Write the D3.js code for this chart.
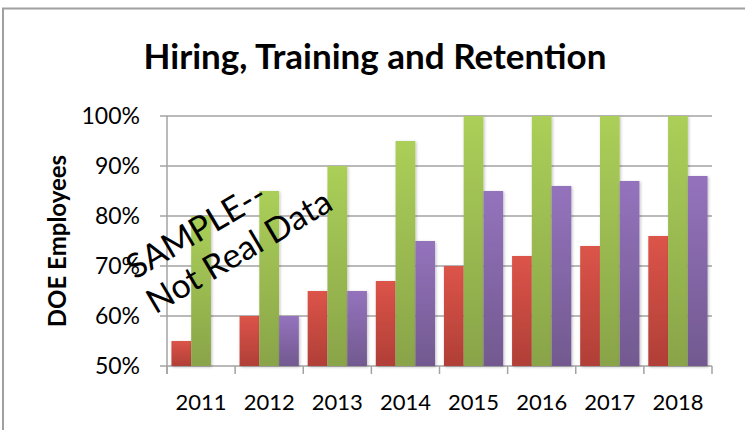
<!DOCTYPE html>
<html>
<head>
<meta charset="utf-8">
<script src="https://cdn.jsdelivr.net/npm/d3@7/dist/d3.min.js"></script>
<style>
  body { margin: 0; background: #fff; }
  svg { display: block; }
  text { font-family: Lato, "Open Sans", sans-serif; fill: #000; }
</style>
</head>
<body>
<svg id="chart" width="745" height="430"></svg>
<script>
// datos
const years = ['2011', '2012', '2013', '2014', '2015', '2016', '2017', '2018'];
const hiring = [55, 60, 65, 67, 70, 72, 74, 76];
const training = [80, 85, 90, 95, 100, 100, 100, 100];
const retention = [null, 60, 65, 75, 85, 86, 87, 88];
const yTicks = [50, 60, 70, 80, 90, 100];

const seriesList = [
  { key: 'hiring', values: hiring, top: '#dc5449', bottom: '#b03f37' },
  { key: 'training', values: training, top: '#abcf58', bottom: '#89a449' },
  { key: 'retention', values: retention, top: '#9473bd', bottom: '#72598f' },
];

const svg = d3.select('#chart');
const margin = { top: 116, right: 33, bottom: 64, left: 167 };
const width = 745 - margin.left - margin.right;
const height = 430 - margin.top - margin.bottom;

// marco del grafico
svg.append('path')
  .attr('d', 'M3,430 V8.5 H745')
  .attr('fill', 'none')
  .attr('stroke', '#a0a0a0')
  .attr('stroke-width', 2);

// gradientes y sombra
const defs = svg.append('defs');
seriesList.forEach((s) => {
  const grad = defs.append('linearGradient')
    .attr('id', 'grad-' + s.key)
    .attr('x1', 0).attr('y1', 0).attr('x2', 0).attr('y2', 1);
  grad.append('stop').attr('offset', '0%').attr('stop-color', s.top);
  grad.append('stop').attr('offset', '100%').attr('stop-color', s.bottom);
});
const shadow = defs.append('filter').attr('id', 'shadow')
  .attr('x', '-40%').attr('y', '-10%').attr('width', '180%').attr('height', '120%');
shadow.append('feDropShadow')
  .attr('dx', 1).attr('dy', 1).attr('stdDeviation', 1.5)
  .attr('flood-color', '#000').attr('flood-opacity', 0.25);

// titulo
svg.append('text')
  .attr('x', 375).attr('y', 69)
  .attr('text-anchor', 'middle')
  .style('font-weight', 'bold')
  .style('font-size', '35px')
  .text('Hiring, Training and Retention');

const g = svg.append('g').attr('transform', `translate(${margin.left},${margin.top})`);

// escalas
const x0 = d3.scaleBand().domain(years).range([0, width]).paddingInner(0).paddingOuter(0);
const x1 = d3.scaleBand().domain(seriesList.map((s) => s.key))
  .range([0, x0.bandwidth()]).paddingInner(0).paddingOuter(0.225);
const y = d3.scaleLinear().domain([50, 100]).range([height, 0]);

// lineas de cuadricula
g.selectAll('.grid')
  .data(yTicks)
  .enter()
  .append('line')
  .attr('x1', -7).attr('x2', width)
  .attr('y1', (d) => y(d)).attr('y2', (d) => y(d))
  .attr('stroke', '#a3a3a3')
  .attr('stroke-width', 1.5);

// eje y
g.append('line')
  .attr('x1', 0).attr('x2', 0)
  .attr('y1', 0).attr('y2', height + 8)
  .attr('stroke', '#a3a3a3').attr('stroke-width', 1.5);

g.selectAll('.ylab')
  .data(yTicks)
  .enter()
  .append('text')
  .attr('x', -27)
  .attr('y', (d) => y(d))
  .attr('dy', '0.36em')
  .attr('text-anchor', 'end')
  .style('font-size', '23px')
  .text((d) => d + '%');

// marcas del eje x
const boundaries = years.map((d) => x0(d)).concat([width]);
g.selectAll('.xtick')
  .data(boundaries)
  .enter()
  .append('line')
  .attr('x1', (d) => d).attr('x2', (d) => d)
  .attr('y1', height).attr('y2', height + 8)
  .attr('stroke', '#a3a3a3').attr('stroke-width', 1.5);

g.selectAll('.xlab')
  .data(years)
  .enter()
  .append('text')
  .attr('x', (d) => x0(d) + x0.bandwidth() / 2)
  .attr('y', height + 44)
  .attr('text-anchor', 'middle')
  .style('font-size', '22px')
  .text((d) => d);

// barras
const groups = g.selectAll('.year')
  .data(years)
  .enter()
  .append('g')
  .attr('transform', (d) => `translate(${x0(d)},0)`);

groups.selectAll('rect')
  .data((d, i) => seriesList
    .map((s) => ({ key: s.key, value: s.values[i] }))
    .filter((v) => v.value != null))
  .enter()
  .append('rect')
  .attr('x', (d) => x1(d.key))
  .attr('width', x1.bandwidth())
  .attr('y', (d) => y(d.value))
  .attr('height', (d) => height - y(d.value))
  .attr('fill', (d) => `url(#grad-${d.key})`)
  .attr('filter', 'url(#shadow)');

// etiqueta del eje y
svg.append('text')
  .attr('transform', 'translate(66,241) rotate(-90)')
  .attr('text-anchor', 'middle')
  .style('font-weight', 'bold')
  .style('font-size', '24px')
  .text('DOE Employees');

// marca de agua
const wm = svg.append('g').attr('transform', 'translate(135,280) rotate(-30.5)');
wm.append('text')
  .attr('x', 0).attr('y', 0)
  .style('font-size', '34px')
  .text('SAMPLE--');
wm.append('text')
  .attr('x', 0).attr('y', 40)
  .style('font-size', '34px')
  .text('Not Real Data');
</script>
</body>
</html>
